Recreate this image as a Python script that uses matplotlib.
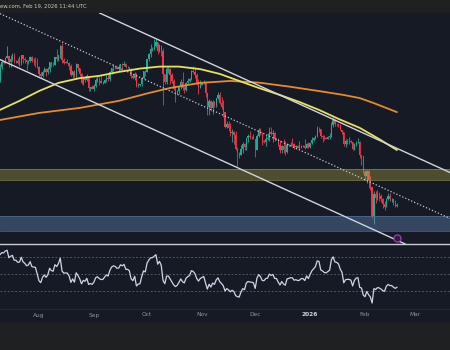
import numpy as np
import pandas as pd
import matplotlib
matplotlib.use("Agg")
import matplotlib.pyplot as plt
import matplotlib.dates as mdates
import matplotlib.transforms as mtransforms
from matplotlib.lines import Line2D
from matplotlib.patches import Rectangle

# ---- daily BTC/USD candles (thousands of USD), 2025-07-10 .. 2026-02-19 ----
start_date = "2025-07-10"

close = [
    # Jul
    115.9, 117.5, 117.4, 119.1, 119.8, 117.7, 118.7, 119.3, 117.9, 117.9, 117.3,
    117.4, 120.0, 118.7, 118.3, 117.6, 117.9, 119.4, 118.0, 117.9, 117.8, 115.8,
    # Aug
    113.3, 112.5, 114.2, 115.0, 114.1, 115.0, 117.5, 116.7, 116.5, 119.3, 118.7,
    120.2, 123.3, 118.4, 117.4, 117.5, 117.4, 116.2, 112.9, 114.3, 112.5, 116.9,
    115.4, 113.5, 110.1, 111.8, 111.2, 112.6, 108.4, 108.8, 108.2,
    # Sep
    109.2, 111.2, 111.7, 110.7, 110.2, 110.2, 111.1, 112.0, 111.5, 113.9, 115.5,
    116.1, 115.9, 115.3, 115.4, 116.8, 116.5, 117.1, 115.7, 115.7, 115.3, 112.7,
    112.0, 113.3, 109.0, 109.6, 109.7, 112.1, 114.4, 114.0,
    # Oct
    118.6, 120.6, 122.3, 122.4, 123.5, 124.7, 121.4, 123.3, 121.7, 113.2, 110.6,
    115.2, 115.3, 113.1, 110.8, 108.2, 106.5, 107.2, 108.7, 110.6, 108.5, 107.6,
    110.1, 111.0, 111.6, 114.5, 114.1, 112.9, 110.1, 108.3, 109.6,
    # Nov
    110.1, 110.6, 106.5, 101.5, 103.9, 101.3, 103.4, 102.3, 104.7, 105.9, 103.1,
    101.6, 99.7, 94.4, 95.6, 94.2, 92.2, 92.9, 91.5, 86.6, 85.1, 84.6,
    86.8, 88.3, 87.3, 90.5, 91.3, 90.9, 90.8, 90.4,
    # Dec
    86.3, 91.3, 93.5, 92.1, 89.4, 89.3, 90.4, 90.6, 92.7, 92.0, 92.5,
    90.3, 90.3, 88.2, 86.4, 87.8, 86.2, 85.5, 88.1, 88.3, 88.6, 88.5,
    87.4, 87.6, 87.2, 87.3, 87.8, 87.8, 87.1, 88.4, 87.5,
    # Jan
    88.7, 89.9, 90.6, 91.4, 93.8, 93.7, 91.3, 91.0, 90.5, 90.4, 90.8,
    91.2, 95.3, 97.0, 95.6, 95.5, 95.1, 93.6, 92.6, 88.3, 89.4, 89.5,
    89.5, 89.2, 86.6, 88.3, 89.1, 89.2, 84.5, 84.1, 78.6,
    # Feb
    76.9, 78.7, 75.6, 73.0, 62.7, 70.5, 69.3, 70.5, 70.1, 68.8, 67.0,
    66.2, 68.8, 69.8, 68.8, 68.8, 67.5, 66.4, 66.9,
]

high = [
    116.8, 118.8, 118.0, 119.5, 123.2, 119.9, 120.0, 120.9, 120.8, 118.5, 118.9,
    119.7, 120.2, 120.1, 119.5, 118.5, 118.2, 119.8, 119.9, 119.2, 119.3, 118.9,
    116.1, 114.0, 114.7, 115.7, 115.6, 115.8, 117.6, 117.7, 117.6, 119.3, 122.3,
    120.3, 123.7, 124.5, 119.2, 117.9, 118.6, 117.6, 116.8, 114.6, 114.8, 117.4,
    117.0, 115.6, 113.6, 112.3, 112.7, 113.3, 112.6, 108.9, 109.5,
    109.9, 111.8, 112.6, 112.2, 113.4, 110.9, 111.5, 112.9, 113.2, 114.3, 115.6,
    116.8, 116.3, 116.1, 116.8, 117.0, 117.3, 117.9, 117.4, 116.3, 116.0, 115.4,
    113.4, 114.0, 113.6, 110.3, 109.9, 112.4, 114.5, 114.8,
    118.7, 121.0, 123.9, 122.9, 125.7, 126.2, 124.9, 124.1, 123.7, 122.5, 113.4,
    115.8, 116.0, 115.6, 113.6, 111.7, 109.2, 107.5, 109.5, 111.6, 114.0, 109.0,
    110.4, 112.0, 111.9, 114.9, 116.1, 116.0, 113.6, 111.6, 111.2,
    110.6, 111.2, 110.8, 106.6, 104.5, 104.0, 104.0, 103.9, 105.0, 107.0, 107.0,
    105.3, 104.0, 99.8, 96.8, 96.6, 96.0, 93.8, 93.2, 93.1, 87.5, 85.6,
    88.0, 89.2, 88.9, 90.6, 91.9, 93.0, 91.2, 91.9,
    90.4, 92.0, 94.1, 94.1, 92.7, 89.9, 91.8, 92.3, 94.6, 94.5, 93.5,
    92.8, 90.6, 90.6, 90.0, 88.2, 90.3, 89.4, 88.9, 88.6, 89.1, 90.5,
    88.9, 88.0, 88.0, 89.5, 88.0, 88.2, 90.3, 88.9, 89.2,
    88.9, 90.9, 90.8, 91.7, 94.8, 94.4, 93.8, 91.5, 91.7, 90.8, 91.2,
    92.4, 96.2, 97.9, 97.2, 95.8, 95.6, 95.4, 93.4, 92.8, 90.4, 90.2,
    91.1, 89.9, 89.2, 88.9, 89.4, 90.5, 89.5, 84.7, 84.3,
    79.3, 79.3, 79.2, 76.9, 73.2, 71.7, 71.7, 72.2, 71.3, 70.7, 69.4,
    68.3, 69.2, 70.9, 70.9, 69.3, 69.0, 68.4, 67.4,
]

low = [
    110.6, 115.3, 116.9, 117.3, 118.9, 115.7, 116.0, 117.9, 117.4, 117.4, 116.9,
    116.1, 116.5, 117.3, 117.3, 114.7, 117.1, 117.7, 117.8, 116.7, 115.9, 115.6,
    112.7, 112.0, 112.2, 114.1, 112.6, 113.5, 114.2, 115.8, 116.1, 116.4, 118.0,
    118.1, 118.9, 117.2, 116.8, 117.2, 117.2, 114.7, 112.7, 112.4, 111.8, 111.7,
    114.6, 112.5, 109.8, 109.4, 110.4, 110.8, 107.4, 107.4, 108.1,
    107.3, 108.8, 110.6, 109.3, 110.1, 109.9, 110.0, 110.6, 110.8, 110.9, 113.4,
    114.4, 115.2, 115.1, 114.4, 114.9, 114.8, 116.2, 115.5, 115.5, 115.1, 112.0,
    111.6, 111.2, 108.7, 108.7, 109.2, 109.1, 111.6, 112.7,
    113.9, 118.0, 119.4, 121.6, 122.0, 123.1, 120.6, 121.1, 119.6, 102.5, 109.7,
    109.9, 113.8, 109.7, 110.2, 107.5, 103.5, 106.3, 106.1, 107.9, 107.5, 106.7,
    107.3, 109.7, 110.6, 111.3, 113.8, 111.9, 109.6, 106.4, 108.3,
    109.4, 109.9, 105.3, 98.9, 98.9, 100.3, 99.3, 101.5, 101.5, 104.3, 102.7,
    100.8, 98.0, 94.0, 94.0, 93.1, 91.2, 89.3, 88.6, 86.2, 80.6, 83.4,
    84.7, 85.3, 86.2, 86.4, 89.2, 90.2, 90.3, 90.3,
    83.9, 86.2, 91.0, 91.7, 88.1, 88.9, 87.8, 89.9, 89.6, 91.5, 89.3,
    89.6, 89.8, 87.6, 85.2, 85.4, 85.4, 84.4, 85.2, 87.8, 87.6, 87.9,
    86.6, 86.5, 86.9, 86.6, 87.1, 87.3, 86.7, 86.9, 87.1,
    87.2, 88.4, 89.4, 90.2, 91.1, 92.6, 90.7, 89.3, 89.7, 90.1, 90.3,
    90.1, 91.1, 94.6, 95.0, 94.9, 94.5, 93.3, 91.9, 87.9, 87.3, 88.6,
    88.6, 88.8, 86.2, 86.4, 87.7, 88.7, 83.4, 81.1, 78.2,
    75.7, 74.6, 72.9, 72.0, 62.2, 60.1, 67.4, 68.7, 68.2, 67.9, 65.8,
    65.1, 65.9, 68.7, 68.2, 67.7, 66.7, 66.0, 66.1,
]

# closes 2025-06-26 .. 2025-07-09, seed for the RSI(14)
prior_close = [107.1, 107.3, 107.3, 108.4, 107.1, 105.7, 108.8,
               109.6, 108.0, 108.2, 109.2, 108.3, 108.9, 111.3]

# moving averages (yellow 100D, orange 200D)
ma100_dates = ["2025-07-10", "2025-07-21", "2025-08-01", "2025-08-12", "2025-08-24",
               "2025-09-04", "2025-09-15", "2025-09-27", "2025-10-08", "2025-10-19",
               "2025-10-31", "2025-11-11", "2025-11-22", "2025-12-03", "2025-12-15",
               "2025-12-26", "2026-01-06", "2026-01-17", "2026-01-29", "2026-02-09",
               "2026-02-19"]
ma100 = [100.6, 103.8, 107.3, 110.2, 111.9, 112.7, 114.1, 115.3, 116.0, 116.0,
         115.1, 113.4, 110.9, 108.4, 105.9, 103.4, 100.6, 97.4, 94.2, 90.2, 86.3]

ma200_dates = ["2025-07-10", "2025-08-01", "2025-08-24", "2025-09-15", "2025-10-02",
               "2025-10-14", "2025-10-31", "2025-11-17", "2025-12-03", "2025-12-20",
               "2026-01-06", "2026-01-20", "2026-01-29", "2026-02-06", "2026-02-19"]
ma200 = [97.0, 99.5, 101.3, 103.8, 106.6, 108.4, 110.2, 110.9, 110.3, 108.9,
         107.3, 105.9, 104.8, 103.0, 99.8]

# descending channel (upper, lower) anchors
channel_dates = ["2025-07-10", "2026-02-19"]
channel_upper = [151.2, 86.9]
channel_lower = [118.5, 54.2]

# horizontal zones
supply_zone = (75.6, 79.6)
demand_zone = (57.5, 62.8)

# alert marker
alert_date, alert_price = "2026-02-19", 55.0

month_ticks = ["2025-08-01", "2025-09-01", "2025-10-01", "2025-11-01",
               "2025-12-01", "2026-01-01", "2026-02-01", "2026-03-01"]
month_labels = ["Aug", "Sep", "Oct", "Nov", "Dec", "2026", "Feb", "Mar"]

header = "ew.com, Feb 19, 2026 11:44 UTC"

# ---------------------------------------------------------------------------
BG = "#161a25"
FRAME = "#1f2021"
UP = "#22ab94"
DOWN = "#f23645"

W, H = 450, 350
fig = plt.figure(figsize=(W / 100, H / 100), dpi=100, facecolor=FRAME)


def fy(px):
    return 1 - px / H


fig.patches.append(Rectangle((0, fy(321)), 1, (321 - 13) / H,
                             transform=fig.transFigure, color=BG, zorder=-5))

ax = fig.add_axes([0, fy(244), 1, (244 - 13) / H])
rax = fig.add_axes([0, fy(308), 1, (308 - 244) / H], sharex=ax)
for a in (ax, rax):
    a.set_facecolor(BG)
    for s in a.spines.values():
        s.set_visible(False)
    a.tick_params(left=False, labelleft=False, bottom=False, labelbottom=False)

dates = pd.date_range(start_date, periods=len(close), freq="D")
xd = mdates.date2num(dates)
c = np.array(close)
o = np.array([prior_close[-1]] + close[:-1])
hi = np.array(high)
lo = np.array(low)
up = c >= o
cols = np.where(up, UP, DOWN)

ax.vlines(xd, lo, hi, colors=cols, lw=0.6, zorder=2)
body = np.maximum(np.abs(c - o), 0.1)
ax.bar(xd, body, bottom=np.minimum(o, c), width=0.74, color=cols,
       lw=0, zorder=2)

# zones
ax.axhspan(*supply_zone, color="#cfc64a", alpha=0.3, lw=0, zorder=3)
ax.axhspan(*demand_zone, color="#6e9acf", alpha=0.35, lw=0, zorder=3)
for v in supply_zone:
    ax.axhline(v, color="#8b8744", lw=0.6, alpha=0.8, zorder=3)
for v in demand_zone:
    ax.axhline(v, color="#4f6f99", lw=0.6, alpha=0.8, zorder=3)

# moving averages
ax.plot(mdates.date2num(pd.to_datetime(ma200_dates)), ma200,
        color="#e68a2e", lw=1.3, zorder=4, solid_capstyle="round")
ax.plot(mdates.date2num(pd.to_datetime(ma100_dates)), ma100,
        color="#e6e25a", lw=1.3, zorder=4, solid_capstyle="round")

# channel
cx = mdates.date2num(pd.to_datetime(channel_dates))
mid = [(u + l) / 2 for u, l in zip(channel_upper, channel_lower)]
ax.axline((cx[0], channel_upper[0]), (cx[1], channel_upper[1]),
          color="#d1d4dc", lw=1.0, zorder=5)
ax.axline((cx[0], channel_lower[0]), (cx[1], channel_lower[1]),
          color="#d1d4dc", lw=1.0, zorder=5)
ax.axline((cx[0], mid[0]), (cx[1], mid[1]), color="#c8cad0", lw=0.9,
          linestyle=(0, (1, 1.6)), zorder=5)

ax.scatter([mdates.date2num(pd.Timestamp(alert_date))], [alert_price], s=26,
           facecolor="#2d1e3c", edgecolor="#9c3fb8", lw=0.9, zorder=6)

x0 = xd[0]
ax.set_xlim(x0, x0 + W / 1.772)
ax.set_ylim(139.7 - 244 / 2.81, 139.7 - 13 / 2.81)

# RSI(14), Wilder smoothing
allc = np.array(prior_close + close)
d = np.diff(allc)
g = np.clip(d, 0, None)
l = np.clip(-d, 0, None)
n = 14
ag = g[:n].mean()
al = l[:n].mean()
rsi = [100 - 100 / (1 + ag / al)]
for gi, li in zip(g[n:], l[n:]):
    ag = (ag * (n - 1) + gi) / n
    al = (al * (n - 1) + li) / n
    rsi.append(100 - 100 / (1 + ag / al))
rax.plot(xd, rsi, color="#cdd6e8", lw=0.9, zorder=3)
for lvl in (70, 50, 30):
    rax.axhline(lvl, color="#5d616c", lw=0.6, dashes=(2.2, 2.2), zorder=2)
rax.set_ylim(10, 70 + 13 / 0.85)

# separators
fig.lines.append(Line2D([0, 1], [fy(244), fy(244)], transform=fig.transFigure,
                        color="#c9ccd3", lw=1.0))
fig.lines.append(Line2D([0, 1], [fy(308.5), fy(308.5)], transform=fig.transFigure,
                        color="#232734", lw=0.8))

# time axis labels
xfig = mtransforms.blended_transform_factory(ax.transData, fig.transFigure)
for t, lab in zip(month_ticks, month_labels):
    bold = lab.isdigit()
    fig.text(mdates.date2num(pd.Timestamp(t)), fy(315), lab, transform=xfig,
             ha="center", va="center", fontsize=4.2,
             color="#d1d4dc" if bold else "#8f929b",
             fontweight="bold" if bold else "normal")

fig.text(0.0, fy(6.5), header, ha="left", va="center", fontsize=3.8,
         color="#c9c9c9")

fig.savefig("out.png", dpi=100, facecolor=FRAME)
